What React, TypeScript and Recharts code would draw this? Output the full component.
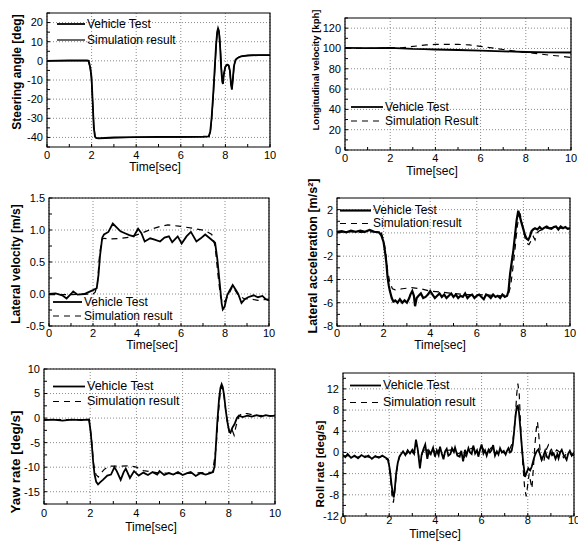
import React from 'react';
import { LineChart, Line, XAxis, YAxis, CartesianGrid, ReferenceArea, Legend } from 'recharts';

type Pt = [number, number];

const FONT = "'Liberation Sans', Arial, Helvetica, sans-serif";
const W = 578;
const H = 544;
const YW = 30;
const XH = 20;

const timeTicks = [0, 2, 4, 6, 8, 10];
const timeMinorTicks = [0, 1, 2, 3, 4, 5, 6, 7, 8, 9, 10];

// ---------- Steering angle ----------
const steerTicks = [-40, -30, -20, -10, 0, 10, 20];
const steerMinor = [-45, -40, -35, -30, -25, -20, -15, -10, -5, 0, 5, 10, 15, 20, 25];
const steerTest: Pt[] = [[0,0],[1,0.2],[1.8,0.2],[1.87,0],[1.95,-4],[2.0,-9],[2.05,-22],[2.1,-35],[2.15,-39.5],[2.2,-40.3],[2.3,-40.5],[2.6,-40.3],[3,-40],[4,-39.8],[5,-39.7],[6,-39.7],[7,-39.6],[7.25,-39.4],[7.32,-37],[7.38,-30],[7.45,-18],[7.52,-4],[7.58,8],[7.63,15],[7.67,17],[7.71,15.5],[7.76,8],[7.81,-4],[7.86,-11],[7.89,-12],[7.93,-7],[8.0,-3],[8.08,-2],[8.15,-2.5],[8.2,-5],[8.25,-12],[8.29,-15],[8.33,-10],[8.38,-3],[8.45,0.5],[8.55,1.5],[8.7,2.3],[9,2.8],[9.5,3],[10,3]];
const steerSim: Pt[] = [[0,0],[1,0],[1.85,0],[1.92,-3],[1.98,-8],[2.04,-20],[2.1,-34],[2.16,-39.8],[2.25,-40.5],[2.6,-40.4],[3,-40.2],[4,-39.9],[5,-39.8],[6,-39.8],[7,-39.7],[7.27,-39.5],[7.34,-36],[7.4,-28],[7.47,-16],[7.54,-2],[7.6,10],[7.65,16],[7.69,16.5],[7.74,13],[7.79,4],[7.84,-7],[7.88,-11.5],[7.92,-8],[7.98,-3.5],[8.06,-2],[8.14,-2.2],[8.2,-5.5],[8.26,-13],[8.3,-14.5],[8.35,-8],[8.4,-2],[8.48,1],[8.6,2],[8.8,2.6],[9.2,3],[10,3]];

// ---------- Longitudinal velocity ----------
const longTicks = [0, 20, 40, 60, 80, 100, 120];
const longMinor = [0, 10, 20, 30, 40, 50, 60, 70, 80, 90, 100, 110, 120, 130];
const longTest: Pt[] = [[0,100.5],[1,100.3],[2,100.5],[2.5,100],[3,99.5],[3.5,99.3],[4,99],[5,98.5],[6,97.8],[7,97.2],[8,96.5],[9,96.2],[10,96]];
const longSim: Pt[] = [[0,100],[1,100],[2,100.5],[2.5,100.5],[2.8,101.5],[3.2,102.5],[3.6,103.5],[4,104],[4.5,104],[5,104],[5.5,103.5],[6,102],[6.5,100.5],[7,99],[7.5,97.5],[8,96],[8.5,95],[9,93.5],[9.5,92.5],[10,91]];

// ---------- Lateral velocity ----------
const latVelTicks = [-0.5, 0, 0.5, 1, 1.5];
const latVelMinor = [-0.5, -0.25, 0, 0.25, 0.5, 0.75, 1, 1.25, 1.5];
const latVelTest: Pt[] = [[0,0],[0.3,0.01],[0.6,-0.02],[0.8,-0.07],[1.0,0.0],[1.1,0.04],[1.3,-0.01],[1.6,0.0],[1.8,0.03],[2.0,0.06],[2.17,0.09],[2.25,0.3],[2.32,0.6],[2.42,0.88],[2.5,0.93],[2.7,0.97],[2.9,1.1],[3.05,1.05],[3.25,0.98],[3.45,0.95],[3.65,0.92],[3.85,0.9],[4.05,1.02],[4.2,0.95],[4.35,0.82],[4.6,0.87],[4.8,0.85],[5.05,0.82],[5.25,0.88],[5.45,0.9],[5.6,0.81],[5.85,0.9],[6.03,0.79],[6.25,0.9],[6.45,0.97],[6.7,0.82],[6.9,0.87],[7.1,0.93],[7.35,0.86],[7.55,0.8],[7.65,0.55],[7.75,0.2],[7.85,-0.15],[7.9,-0.24],[7.98,-0.2],[8.1,-0.02],[8.2,0.05],[8.35,0.14],[8.5,0.06],[8.6,0.0],[8.75,-0.14],[8.9,-0.08],[9.05,-0.05],[9.3,-0.02],[9.5,-0.05],[9.7,-0.03],[9.85,-0.08],[10,-0.1]];
const latVelSim: Pt[] = [[0,-0.01],[1,-0.01],[2.0,0.0],[2.1,0.03],[2.2,0.15],[2.3,0.62],[2.4,0.85],[2.5,0.87],[2.8,0.86],[3.3,0.87],[3.7,0.89],[4.2,0.95],[4.7,1.02],[5.1,1.06],[5.4,1.08],[5.9,1.06],[6.5,1.03],[7.1,0.99],[7.4,0.93],[7.55,0.75],[7.68,0.3],[7.8,-0.05],[7.92,-0.15],[8.1,-0.05],[8.35,0.12],[8.6,-0.02],[8.85,-0.07],[9.2,-0.08],[9.5,-0.1],[10,-0.08]];

// ---------- Lateral acceleration ----------
const latAccTicks = [-8, -6, -4, -2, 0, 2];
const latAccMinor = [-8, -7, -6, -5, -4, -3, -2, -1, 0, 1, 2, 3];
const latAccTest: Pt[] = [[0,0.1],[0.2,0.15],[0.4,0.05],[0.6,0.2],[0.8,0.1],[1.0,0.2],[1.2,0.1],[1.4,0.25],[1.6,0.1],[1.8,0.05],[1.9,-0.2],[2.0,-0.8],[2.06,-1.6],[2.12,-2.6],[2.17,-3.8],[2.22,-4.5],[2.27,-5.0],[2.35,-5.6],[2.42,-5.9],[2.5,-5.8],[2.6,-6.0],[2.7,-5.7],[2.8,-6.0],[2.9,-5.8],[3.0,-6.0],[3.1,-5.6],[3.15,-5.3],[3.23,-5.0],[3.3,-5.4],[3.35,-6.3],[3.42,-5.6],[3.5,-5.4],[3.6,-5.2],[3.7,-5.6],[3.8,-5.5],[3.9,-5.3],[4.0,-5.0],[4.1,-5.3],[4.2,-5.6],[4.3,-5.4],[4.4,-5.2],[4.5,-5.5],[4.6,-5.3],[4.7,-5.6],[4.8,-5.4],[4.9,-5.2],[5.0,-5.5],[5.1,-5.3],[5.2,-5.6],[5.3,-5.4],[5.4,-5.5],[5.5,-5.2],[5.6,-5.6],[5.7,-5.4],[5.8,-5.3],[5.9,-5.6],[6.0,-5.4],[6.1,-5.3],[6.2,-5.5],[6.3,-5.7],[6.4,-5.3],[6.5,-5.4],[6.6,-5.6],[6.7,-5.3],[6.8,-5.5],[6.9,-5.4],[7.0,-5.6],[7.1,-5.3],[7.2,-5.5],[7.3,-5.4],[7.36,-5.0],[7.43,-3.5],[7.5,-2.5],[7.57,-1.5],[7.64,-0.2],[7.71,1.1],[7.78,1.9],[7.85,1.4],[7.92,0.85],[8.0,0.3],[8.07,-0.2],[8.14,-0.5],[8.21,-0.6],[8.28,-0.3],[8.35,0.15],[8.42,0.3],[8.5,0.4],[8.6,0.3],[8.7,0.5],[8.8,0.3],[8.9,0.45],[9.0,0.55],[9.1,0.4],[9.2,0.35],[9.3,0.5],[9.4,0.55],[9.5,0.3],[9.6,0.55],[9.7,0.4],[9.8,0.5],[9.9,0.35],[10,0.4]];
const latAccSim: Pt[] = [[0,0.05],[0.5,0.1],[1,0.05],[1.5,0.1],[1.9,0.0],[2.0,-0.6],[2.08,-1.5],[2.17,-3.2],[2.27,-4.3],[2.38,-4.8],[2.5,-4.9],[2.8,-4.8],[3.2,-4.7],[3.6,-4.8],[4.0,-5.0],[4.5,-5.1],[5,-5.2],[5.5,-5.3],[6,-5.3],[6.5,-5.35],[7,-5.4],[7.35,-5.3],[7.45,-4.6],[7.55,-3],[7.65,-1.2],[7.72,0.3],[7.8,1.4],[7.86,1.6],[7.93,1.0],[8.0,0.2],[8.08,-0.5],[8.16,-0.9],[8.24,-1.0],[8.32,-0.7],[8.42,-0.3],[8.5,-0.6],[8.58,0],[8.7,0.2],[8.9,0.35],[9.2,0.45],[9.6,0.4],[10,0.4]];

// ---------- Yaw rate ----------
const yawTicks = [-15, -10, -5, 0, 5, 10];
const yawMinor = [-17.5, -15, -12.5, -10, -7.5, -5, -2.5, 0, 2.5, 5, 7.5, 10];
const yawTest: Pt[] = [[0,-0.4],[0.4,-0.3],[0.8,-0.5],[1.2,-0.3],[1.6,-0.4],[1.95,-0.3],[2.02,-2.8],[2.08,-6],[2.13,-9],[2.19,-11.5],[2.26,-13],[2.34,-13.5],[2.45,-13],[2.55,-12.6],[2.74,-11.7],[2.9,-11.5],[3.05,-10],[3.15,-10.8],[3.32,-12.6],[3.45,-11],[3.54,-10.3],[3.72,-12.2],[3.9,-10.8],[4.1,-11.7],[4.3,-11.1],[4.5,-11.6],[4.7,-11],[4.9,-11.5],[5.0,-10.8],[5.2,-11.6],[5.4,-11.2],[5.6,-11.5],[5.8,-11],[6.0,-11.6],[6.2,-11.2],[6.35,-11],[6.57,-11.8],[6.78,-11.2],[7.0,-11.5],[7.2,-11.2],[7.32,-11],[7.39,-9.7],[7.45,-5],[7.5,-1],[7.58,4],[7.64,6.2],[7.69,6.9],[7.74,6.3],[7.8,4.5],[7.87,1.5],[7.94,-0.8],[8.02,-2.8],[8.07,-3],[8.15,-2],[8.25,-1.2],[8.35,0],[8.44,0.5],[8.6,0.2],[8.8,0.5],[9.0,0.3],[9.2,0.6],[9.4,0.3],[9.6,0.6],[9.8,0.4],[10,0.5]];
const yawSim: Pt[] = [[0,-0.3],[1,-0.3],[1.95,-0.3],[2.05,-4],[2.15,-9.5],[2.25,-11.5],[2.35,-12],[2.45,-11.3],[2.6,-10.5],[2.8,-9.8],[3.2,-9.8],[3.7,-9.7],[4.0,-10],[4.3,-10.7],[5,-11.2],[6,-11.3],[7,-11.1],[7.3,-11],[7.45,-6],[7.55,1],[7.63,5.2],[7.7,6.5],[7.78,5],[7.88,1],[7.98,-2],[8.08,-3.2],[8.15,-2.5],[8.23,-3.5],[8.32,-1.5],[8.45,0.5],[8.6,1],[8.8,0.9],[9.1,0.6],[9.5,0.5],[10,0.5]];

// ---------- Roll rate ----------
const rollTicks = [-12, -8, -4, 0, 4, 8, 12];
const rollMinor = [-12, -10, -8, -6, -4, -2, 0, 2, 4, 6, 8, 10, 12, 14];
const rollTest: Pt[] = [[0,-0.5],[0.1,-0.9],[0.2,-0.3],[0.35,-1],[0.5,-0.6],[0.65,-1.1],[0.8,-0.5],[0.95,-0.9],[1.1,-0.6],[1.25,-1.2],[1.4,-0.7],[1.55,-1],[1.7,-0.6],[1.85,-1],[1.95,-1.3],[2.03,-3.3],[2.1,-6],[2.15,-7.7],[2.2,-8.5],[2.25,-6.5],[2.3,-4],[2.37,-2],[2.44,-0.8],[2.52,-0.3],[2.6,0.2],[2.7,-0.5],[2.8,0.4],[2.9,-0.2],[3.0,0.5],[3.08,-0.2],[3.16,2.4],[3.24,0.5],[3.33,-3],[3.4,-0.5],[3.48,0.6],[3.56,1.5],[3.65,-1.2],[3.72,0.3],[3.8,-0.3],[3.9,0.9],[3.98,-0.8],[4.06,0.4],[4.14,-0.5],[4.2,1.1],[4.28,-0.3],[4.35,-1.3],[4.42,0.2],[4.49,0.7],[4.56,-0.6],[4.65,-0.3],[4.72,0.8],[4.8,0.1],[4.85,0.9],[4.95,-0.6],[5.05,-0.8],[5.12,0.3],[5.2,-1.7],[5.28,0.5],[5.35,-0.5],[5.43,0.8],[5.5,0],[5.57,-0.3],[5.64,1.3],[5.72,-0.2],[5.8,0.4],[5.86,-0.8],[5.93,0.5],[6.0,1.5],[6.08,-0.2],[6.15,0.4],[6.22,-0.6],[6.3,0.5],[6.36,0],[6.43,0.4],[6.5,1.4],[6.58,-0.6],[6.66,0.2],[6.73,-0.4],[6.8,0.8],[6.88,0],[6.96,0.3],[7.04,-0.4],[7.1,0.3],[7.16,0.8],[7.23,0],[7.3,0.3],[7.35,1.5],[7.4,3.6],[7.46,6.5],[7.52,8.6],[7.57,8.8],[7.62,7.5],[7.68,4.5],[7.73,1.7],[7.8,-1.8],[7.88,-4.6],[7.95,-3.8],[8.02,-3],[8.1,-3.4],[8.17,-2.7],[8.24,-1.5],[8.31,-0.5],[8.38,0.2],[8.46,0.6],[8.53,-0.4],[8.6,-1.4],[8.68,-0.6],[8.75,0.3],[8.82,-0.8],[8.9,-1.1],[8.98,0.2],[9.05,-0.5],[9.12,-0.2],[9.2,-1.2],[9.28,-0.3],[9.33,-1.1],[9.4,0],[9.47,0.5],[9.55,-0.5],[9.62,-0.9],[9.68,-1.4],[9.75,-0.2],[9.82,0.3],[9.9,-0.6],[10,0]];
const rollSim: Pt[] = [[0,-0.7],[0.3,-0.6],[0.6,-0.9],[0.9,-0.6],[1.2,-1],[1.5,-0.8],[1.8,-1],[1.95,-1.5],[2.05,-4.5],[2.12,-8],[2.18,-9.5],[2.24,-7.5],[2.3,-4.5],[2.38,-1.8],[2.48,-0.5],[2.6,0],[2.75,-0.3],[2.9,0.5],[3.05,-0.2],[3.15,1.8],[3.25,0.2],[3.33,-2.2],[3.45,0],[3.6,1],[3.75,-0.6],[3.9,0.6],[4.05,-0.3],[4.2,0.8],[4.35,-0.8],[4.5,0.4],[4.7,0.5],[4.9,-0.4],[5.1,0],[5.25,-1],[5.45,0.6],[5.65,0.9],[5.85,-0.4],[6.0,1.2],[6.2,-0.3],[6.45,1.1],[6.6,-0.3],[6.8,0.5],[7.0,-0.2],[7.2,0.4],[7.35,2],[7.45,6],[7.52,11],[7.57,13],[7.63,11],[7.7,4],[7.78,-2],[7.86,-6.5],[7.93,-8.3],[8.0,-6],[8.06,-4],[8.12,-5.5],[8.18,-6.8],[8.24,-3],[8.3,1],[8.37,4.5],[8.42,5.8],[8.48,3],[8.55,-0.5],[8.62,-2],[8.7,-1.5],[8.8,0.5],[8.9,1.5],[9.0,1],[9.1,-0.5],[9.25,0.5],[9.4,0],[9.55,-1],[9.7,0],[9.85,-0.3],[10,-0.6]];

const toData = (pts: Pt[]) => pts.map(([t, v]) => ({ t, v }));

interface PanelCfg {
  box: { L: number; R: number; T: number; B: number };
  domain: [number, number];
  ticks: number[];
  minor: number[];
  fmt?: (v: number) => string;
  yTitle: string;
  yTitleSize: number;
  yTitlePos: [number, number];
  xTitlePos: [number, number];
  xTickGap: number;
  test: Pt[];
  sim: Pt[];
  simName: string;
  simDash?: string;
  testWidth?: number;
  legend: { x1: number; x2: number; textX: number; y1: number; y2: number; fontSize: number };
}

const IN = -3; // inward tick length

function Panel({ cfg }: { cfg: PanelCfg }) {
  const { box, domain, ticks, minor, fmt, yTitle, yTitlePos, xTitlePos, test, sim, simName, simDash, legend } = cfg;
  const rowH = legend.y2 - legend.y1;
  const isMajorX = (v: number) => timeTicks.some((t) => Math.abs(t - v) < 1e-9);
  const isMajorY = (v: number) => ticks.some((t) => Math.abs(t - v) < 1e-9);

  const renderLegend = (props: any) => {
    const payload = ((props && props.payload) || []).slice();
    let rows = payload.map((p: any) => ({
      label: p.value,
      dash: p.payload && p.payload.strokeDasharray,
      w: p.payload && p.payload.strokeWidth,
    }));
    if (!rows.length) {
      rows = [
        { label: simName, dash: simDash, w: 1.2 },
        { label: 'Vehicle Test', dash: undefined, w: 1.8 },
      ];
    }
    rows.sort((a: any, b: any) => (a.label === 'Vehicle Test' ? -1 : b.label === 'Vehicle Test' ? 1 : 0));
    return (
      <div style={{ fontFamily: FONT, fontSize: legend.fontSize, color: '#000', whiteSpace: 'nowrap' }}>
        {rows.map((r: any, i: number) => (
          <div key={i} style={{ height: rowH, display: 'flex', alignItems: 'center' }}>
            <svg width={legend.textX - legend.x1} height={rowH} style={{ display: 'block' }}>
              <line
                x1={0}
                x2={legend.x2 - legend.x1}
                y1={rowH / 2}
                y2={rowH / 2}
                stroke="#000"
                strokeWidth={r.w || 1.5}
                strokeDasharray={r.dash}
              />
            </svg>
            <span>{r.label}</span>
          </div>
        ))}
      </div>
    );
  };

  const tickStyle = { fontSize: 11, fill: '#000', fontFamily: FONT };

  return (
    <div style={{ position: 'absolute', left: 0, top: 0, width: W, height: H }}>
      <LineChart
        width={W}
        height={H}
        margin={{ top: box.T, left: box.L - YW, right: W - box.R, bottom: H - box.B - XH }}
      >
        <CartesianGrid
          stroke="#8a8a8a"
          strokeDasharray="1 2"
          strokeWidth={1}
          verticalValues={timeTicks}
          horizontalValues={ticks}
        />
        <XAxis
          type="number"
          dataKey="t"
          domain={[0, 10]}
          ticks={timeMinorTicks}
          interval={0}
          allowDataOverflow
          height={XH}
          axisLine={false}
          tickLine={{ stroke: '#000' }}
          tickSize={IN}
          tickMargin={cfg.xTickGap - IN}
          tickFormatter={(v: number) => (isMajorX(v) ? String(v) : '')}
          tick={tickStyle}
          label={{
            content: () => (
              <text
                x={xTitlePos[0]}
                y={xTitlePos[1]}
                textAnchor="middle"
                dominantBaseline="central"
                fontFamily={FONT}
                fontSize={12}
                fill="#000"
              >
                Time[sec]
              </text>
            ),
          }}
        />
        <XAxis
          xAxisId="top"
          orientation="top"
          type="number"
          domain={[0, 10]}
          ticks={timeMinorTicks}
          interval={0}
          height={0}
          axisLine={false}
          tickLine={{ stroke: '#000' }}
          tickSize={IN}
          tick={false}
        />
        <YAxis
          type="number"
          domain={domain}
          ticks={minor}
          interval={0}
          allowDataOverflow
          width={YW}
          axisLine={false}
          tickLine={{ stroke: '#000' }}
          tickSize={IN}
          tickMargin={4 - IN}
          tickFormatter={(v: number) => (isMajorY(v) ? (fmt ? fmt(v) : String(v)) : '')}
          tick={tickStyle}
          label={{
            content: () => (
              <text
                x={yTitlePos[0]}
                y={yTitlePos[1]}
                transform={`rotate(-90 ${yTitlePos[0]} ${yTitlePos[1]})`}
                textAnchor="middle"
                dominantBaseline="central"
                fontFamily={FONT}
                fontSize={cfg.yTitleSize}
                fontWeight="bold"
                fill="#000"
              >
                {yTitle}
              </text>
            ),
          }}
        />
        <YAxis
          yAxisId="right"
          orientation="right"
          type="number"
          domain={domain}
          ticks={minor}
          interval={0}
          width={0}
          axisLine={false}
          tickLine={{ stroke: '#000' }}
          tickSize={IN}
          tick={false}
        />
        <ReferenceArea
          x1={0}
          x2={10}
          y1={domain[0]}
          y2={domain[1]}
          fill="none"
          fillOpacity={0}
          stroke="#000"
          strokeWidth={1.2}
          ifOverflow="visible"
        />
        <Line
          data={toData(sim)}
          dataKey="v"
          name={simName}
          type="linear"
          stroke="#000"
          strokeWidth={1.2}
          strokeDasharray={simDash}
          dot={false}
          activeDot={false}
          isAnimationActive={false}
        />
        <Line
          data={toData(test)}
          dataKey="v"
          name="Vehicle Test"
          type="linear"
          stroke="#000"
          strokeWidth={cfg.testWidth ?? 1.8}
          dot={false}
          activeDot={false}
          isAnimationActive={false}
        />
        <Legend
          layout="vertical"
          align="center"
          verticalAlign="middle"
          content={renderLegend}
          wrapperStyle={{ left: legend.x1, top: legend.y1 - rowH / 2, width: 220, height: rowH * 2, margin: 0, padding: 0 }}
        />
      </LineChart>
    </div>
  );
}

const panels: PanelCfg[] = [
  {
    box: { L: 47, R: 270, T: 13, B: 147 },
    domain: [-45, 25],
    ticks: steerTicks,
    minor: steerMinor,
    yTitle: 'Steering angle [deg]',
    yTitleSize: 12,
    yTitlePos: [17, 72],
    xTitlePos: [155, 167],
    xTickGap: 4.5,
    test: steerTest,
    sim: steerSim,
    simName: 'Simulation result',
    simDash: undefined,
    legend: { x1: 57, x2: 85, textX: 87, y1: 24, y2: 40, fontSize: 12 },
  },
  {
    box: { L: 345, R: 571, T: 18, B: 150 },
    domain: [0, 130],
    ticks: longTicks,
    minor: longMinor,
    yTitle: 'Longitudinal velocity [kph]',
    yTitleSize: 9.5,
    yTitlePos: [315, 70],
    xTitlePos: [432, 171],
    xTickGap: 4,
    test: longTest,
    sim: longSim,
    simName: 'Simulation Result',
    simDash: '6 5',
    legend: { x1: 351, x2: 383, textX: 385, y1: 107, y2: 121, fontSize: 12 },
  },
  {
    box: { L: 49, R: 269, T: 198, B: 326 },
    domain: [-0.5, 1.5],
    ticks: latVelTicks,
    minor: latVelMinor,
    fmt: (v: number) => v.toFixed(1),
    yTitle: 'Lateral velocity [m/s]',
    yTitleSize: 12,
    yTitlePos: [16, 264],
    xTitlePos: [152, 345],
    xTickGap: 3,
    test: latVelTest,
    sim: latVelSim,
    simName: 'Simulation result',
    simDash: '6 5',
    legend: { x1: 53, x2: 82, textX: 84, y1: 302, y2: 316, fontSize: 12 },
  },
  {
    box: { L: 337, R: 570, T: 198, B: 326 },
    domain: [-8, 3],
    ticks: latAccTicks,
    minor: latAccMinor,
    yTitle: 'Lateral acceleration [m/s²]',
    yTitleSize: 12.5,
    yTitlePos: [313, 256],
    xTitlePos: [440, 345],
    xTickGap: 3,
    test: latAccTest,
    sim: latAccSim,
    simName: 'Simulation result',
    simDash: '6 5',
    testWidth: 2.2,
    legend: { x1: 340, x2: 371, textX: 373, y1: 210, y2: 223, fontSize: 12 },
  },
  {
    box: { L: 44, R: 275, T: 369, B: 504 },
    domain: [-17.5, 10],
    ticks: yawTicks,
    minor: yawMinor,
    yTitle: 'Yaw rate [deg/s]',
    yTitleSize: 13.5,
    yTitlePos: [15, 462],
    xTitlePos: [151, 527],
    xTickGap: 5,
    test: yawTest,
    sim: yawSim,
    simName: 'Simulation result',
    simDash: '6 5',
    legend: { x1: 53, x2: 85, textX: 87, y1: 386, y2: 401, fontSize: 12.5 },
  },
  {
    box: { L: 343, R: 574, T: 373, B: 516 },
    domain: [-12, 15],
    ticks: rollTicks,
    minor: rollMinor,
    yTitle: 'Roll rate [deg/s]',
    yTitleSize: 11.5,
    yTitlePos: [320, 464],
    xTitlePos: [435, 534],
    xTickGap: 0,
    test: rollTest,
    sim: rollSim,
    simName: 'Simulation result',
    simDash: '6 5',
    legend: { x1: 350, x2: 381, textX: 383, y1: 385, y2: 402, fontSize: 12.5 },
  },
];

export default function App() {
  return (
    <div style={{ position: 'absolute', left: 0, top: 0, width: W, height: H, background: '#fff', overflow: 'hidden' }}>
      {panels.map((p, i) => (
        <Panel key={i} cfg={p} />
      ))}
    </div>
  );
}
